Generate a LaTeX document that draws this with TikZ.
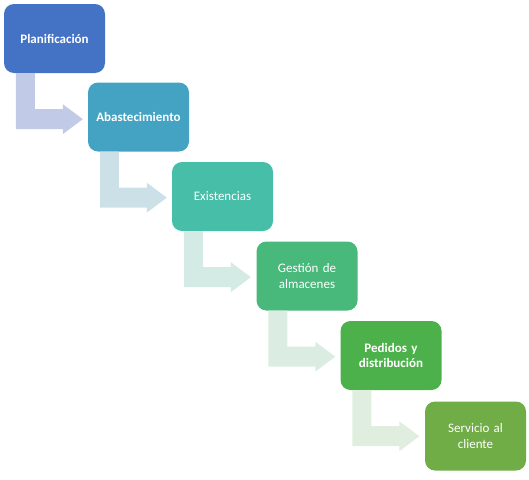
\documentclass[tikz,border=0pt]{standalone}
\usepackage{fontspec}
\setmainfont{Carlito}
\usetikzlibrary{calc}
\definecolor{c1}{HTML}{4472C4}
\definecolor{c2}{HTML}{44A3C2}
\definecolor{c3}{HTML}{46BEA8}
\definecolor{c4}{HTML}{48B97A}
\definecolor{c5}{HTML}{4CB14B}
\definecolor{c6}{HTML}{70AD47}
\definecolor{a1}{HTML}{C1CAE6}
\definecolor{a2}{HTML}{CCE0E8}
\definecolor{a3}{HTML}{D4EBE5}
\definecolor{a4}{HTML}{DBEDE2}
\definecolor{a5}{HTML}{E0EEDF}
\tikzset{
  stagebox/.style={rounded corners=10pt, minimum width=101pt, minimum height=69pt,
    text width=95pt, align=center, text=white, inner sep=0pt,
    font=\fontsize{13}{16}\selectfont},
  boldbox/.style={stagebox, font=\fontsize{13}{15}\selectfont\bfseries},
}
\newcommand\bentarrow[2]{%
  \fill[#2] ($(#1.south west)+(12,0)$) -- ++(19,0) -- ++(0,36) -- ++(28,0) -- ++(0,-5)
    -- ++(20,15) -- ++(-20,15) -- ++(0,-5) -- ++(-47,0) -- cycle;}
\begin{document}
\begin{tikzpicture}[x=1pt,y=-1pt]
\useasboundingbox (0,0) rectangle (529,479);
\node[boldbox, fill=c1] (b1) at (54.5,38.5) {Planificación};
\node[boldbox, fill=c2] (b2) at (138.5,117) {Abastecimiento};
\node[stagebox, fill=c3] (b3) at (222.5,196.5) {Existencias};
\node[stagebox, fill=c4] (b4) at (307,276) {Gestión de\\almacenes};
\node[boldbox, fill=c5] (b5) at (391,355.5) {Pedidos y\\distribución};
\node[stagebox, fill=c6] (b6) at (475.5,436) {Servicio al\\cliente};
\bentarrow{b1}{a1}
\bentarrow{b2}{a2}
\bentarrow{b3}{a3}
\bentarrow{b4}{a4}
\bentarrow{b5}{a5}
\end{tikzpicture}
\end{document}
